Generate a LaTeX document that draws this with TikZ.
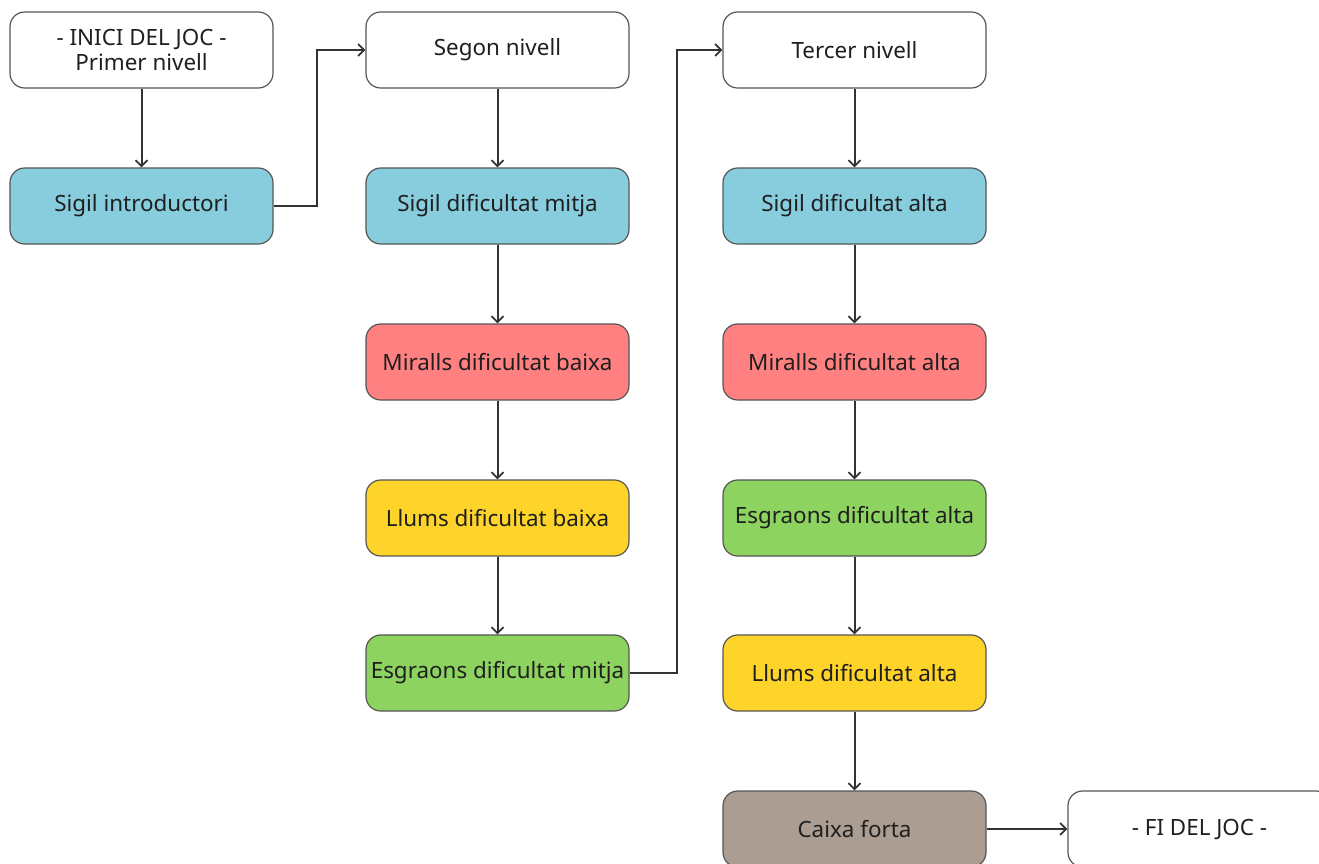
\documentclass[tikz,border=0pt]{standalone}
\usepackage{fontspec}
\setmainfont{Noto Sans}
\usetikzlibrary{arrows.meta}
\definecolor{cblue}{HTML}{87CDDE}
\definecolor{cred}{HTML}{FF8080}
\definecolor{cyellow}{HTML}{FFD42A}
\definecolor{cgreen}{HTML}{8DD35F}
\definecolor{cbrown}{HTML}{AC9D93}
\definecolor{cline}{HTML}{333333}
\definecolor{cborder}{HTML}{555555}
\tikzset{
  box/.style={draw=cborder, line width=0.9pt, rounded corners=11pt, minimum width=263*0.75pt, minimum height=76*0.75pt, inner sep=0pt, align=center, font=\fontsize{16.8pt}{19pt}\selectfont, text=black!88},
  conn/.style={draw=cline, line width=1.5pt, -{Straight Barb[length=4.5pt,width=9pt,line width=1.3pt]}},
}
\begin{document}
\begin{tikzpicture}[x=0.75pt,y=-0.75pt]
\useasboundingbox (0,0) rectangle (1319,863);
\node[box, fill=white] (start) at (141.5,50) {- INICI DEL JOC -\\Primer nivell};
\node[box, fill=cblue] (sintro) at (141.5,206) {Sigil introductori};
\node[box, fill=white] (segon) at (497.5,50) {Segon nivell};
\node[box, fill=cblue] (smitja) at (497.5,206) {Sigil dificultat mitja};
\node[box, fill=cred] (mbaixa) at (497.5,362) {Miralls dificultat baixa};
\node[box, fill=cyellow] (lbaixa) at (497.5,518) {Llums dificultat baixa};
\node[box, fill=cgreen] (emitja) at (497.5,673) {Esgraons dificultat mitja};
\node[box, fill=white] (tercer) at (854.5,50) {Tercer nivell};
\node[box, fill=cblue] (salta) at (854.5,206) {Sigil dificultat alta};
\node[box, fill=cred] (malta) at (854.5,362) {Miralls dificultat alta};
\node[box, fill=cgreen] (ealta) at (854.5,518) {Esgraons dificultat alta};
\node[box, fill=cyellow] (lalta) at (854.5,673) {Llums dificultat alta};
\node[box, fill=cbrown] (caixa) at (854.5,829) {Caixa forta};
\node[box, fill=white] (fi) at (1199.5,829) {- FI DEL JOC -};
\draw[conn] (start) -- (sintro);
\draw[conn] (sintro.east) -- ++(43,0) |- (segon.west);
\draw[conn] (segon) -- (smitja);
\draw[conn] (smitja) -- (mbaixa);
\draw[conn] (mbaixa) -- (lbaixa);
\draw[conn] (lbaixa) -- (emitja);
\draw[conn] (emitja.east) -- ++(47,0) |- (tercer.west);
\draw[conn] (tercer) -- (salta);
\draw[conn] (salta) -- (malta);
\draw[conn] (malta) -- (ealta);
\draw[conn] (ealta) -- (lalta);
\draw[conn] (lalta) -- (caixa);
\draw[conn] (caixa) -- (fi);
\end{tikzpicture}
\end{document}
